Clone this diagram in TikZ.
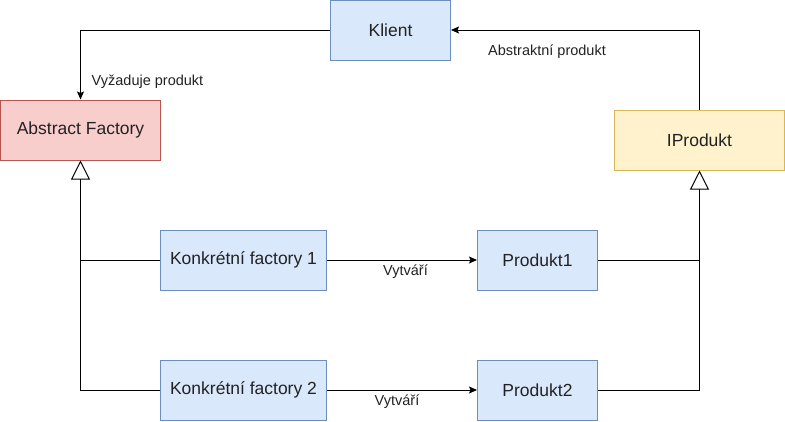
\documentclass[tikz,border=0pt]{standalone}
\usepackage{fontspec}
\setmainfont{Liberation Sans}
\usetikzlibrary{arrows.meta}
\definecolor{bfill}{HTML}{DAE8FC}
\definecolor{bline}{HTML}{6C8EBF}
\definecolor{rfill}{HTML}{F8CECC}
\definecolor{rline}{HTML}{B85450}
\definecolor{yfill}{HTML}{FFF2CC}
\definecolor{yline}{HTML}{D6B656}
\definecolor{txt}{HTML}{222222}
\begin{document}
\begin{tikzpicture}[x=1pt,y=-1pt,
  basebox/.style={line width=1pt, minimum width=120pt, minimum height=60pt, inner sep=0pt,
    font=\fontsize{17.5}{20}\selectfont, text=txt},
  bluebox/.style={basebox, draw=bline, fill=bfill},
  redbox/.style={basebox, draw=rline, fill=rfill},
  yellowbox/.style={basebox, draw=yline, fill=yfill},
  lbl/.style={inner sep=0pt, font=\fontsize{14.5}{16}\selectfont, text=txt},
  conn/.style={line width=1pt, draw=black},
  farrow/.style={conn, -{Stealth[length=8pt,width=7pt,inset=1.5pt]}},
  oarrow/.style={conn, -{Triangle[open,length=19pt,width=19pt,fill=white]}}
]
\useasboundingbox (0,0) rectangle (785,421);
\node[bluebox] (klient) at (390.5,30) {Klient};
\node[redbox, minimum width=160pt] (af) at (80.5,130) {Abstract Factory};
\node[yellowbox, minimum width=170pt] (ip) at (699.5,140) {IProdukt};
\node[bluebox, minimum width=166.7pt] (k1) at (243.5,260) {Konkrétní factory 1};
\node[bluebox] (p1) at (537.5,260) {Produkt1};
\node[bluebox, minimum width=166.7pt] (k2) at (243.5,390) {Konkrétní factory 2};
\node[bluebox] (p2) at (537.5,390) {Produkt2};

\draw[farrow] (klient.west) -| (af.north);
\draw[farrow] (ip.north) |- (klient.east);
\draw[farrow] (k1.east) -- (p1.west);
\draw[farrow] (k2.east) -- (p2.west);
\draw[conn] (k1.west) -- (af.south |- k1.west);
\draw[oarrow] (k2.west) -| (af.south);
\draw[conn] (p1.east) -- (ip.south |- p1.east);
\draw[oarrow] (p2.east) -| (ip.south);

\node[lbl] (l1) at (147.5,82) {Vyžaduje produkt};
\node[lbl] (l2) at (547,52) {Abstraktní produkt};
\node[lbl] (l3) at (405.5,272) {Vytváří};
\node[lbl] (l4) at (397,402) {Vytváří};
\end{tikzpicture}
\end{document}
